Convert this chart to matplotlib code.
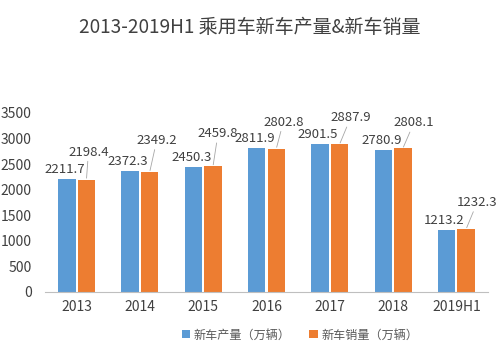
import matplotlib
matplotlib.use("Agg")
import matplotlib.pyplot as plt
import numpy as np

plt.rcParams['font.family'] = ['Noto Sans CJK SC', 'DejaVu Sans']

# 数据（万辆）
years = ['2013', '2014', '2015', '2016', '2017', '2018', '2019H1']
production = [2211.7, 2372.3, 2450.3, 2811.9, 2901.5, 2780.9, 1213.2]
sales = [2198.4, 2349.2, 2459.8, 2802.8, 2887.9, 2808.1, 1232.3]
yticks = [0, 500, 1000, 1500, 2000, 2500, 3000, 3500]

# 销量标签的偏移（像素）
sales_dx = [2, 7, 5, 7, 11, 11, 11]
sales_dy = [21, 25, 26, 20, 20, 19, 20]

blue = '#5B9BD5'
orange = '#ED7D31'
text_c = '#404040'

fig = plt.figure(figsize=(5, 3.62), dpi=100)
ax = fig.add_axes([0.09, 0.1934, 0.886, 0.4946])

x = np.arange(len(years))
w = 0.276
off = 0.155
ax.bar(x - off, production, w, color=blue, label='新车产量（万辆）')
ax.bar(x + off, sales, w, color=orange, label='新车销量（万辆）')

# 标签
for i in range(len(years)):
    ax.annotate(f'{production[i]:.1f}', (x[i] - off, production[i]),
                xytext=(-2, 3), textcoords='offset pixels',
                ha='center', va='bottom', fontsize=9.5, color=text_c)
    ax.annotate(f'{sales[i]:.1f}', (x[i] + off, sales[i]),
                xytext=(sales_dx[i], sales_dy[i]), textcoords='offset pixels',
                ha='center', va='bottom', fontsize=9.5, color=text_c,
                arrowprops=dict(arrowstyle='-', color='#A6A6A6', lw=0.6,
                                shrinkA=0, shrinkB=1))

ax.set_xlim(-0.5, len(years) - 0.5)
ax.set_ylim(0, 3500)
ax.set_yticks(yticks)
ax.set_xticks(x)
ax.set_xticklabels(years)
ax.tick_params(axis='both', length=0, labelsize=10, labelcolor=text_c)
ax.tick_params(axis='y', pad=9.5)
ax.tick_params(axis='x', pad=6)
for s in ['top', 'right', 'left']:
    ax.spines[s].set_visible(False)
ax.spines['bottom'].set_color('#BFBFBF')

fig.text(0.5, 0.925, '2013-2019H1 乘用车新车产量&新车销量', ha='center', va='center',
         fontsize=13.7, color=text_c)

fig.legend(loc='center', bbox_to_anchor=(0.6, 0.075), ncol=2, frameon=False,
           fontsize=8.7, handlelength=0.7, handleheight=0.7, handletextpad=0.3,
           columnspacing=1.5, labelcolor='#595959')

fig.savefig('out.png', dpi=100, facecolor='white')
